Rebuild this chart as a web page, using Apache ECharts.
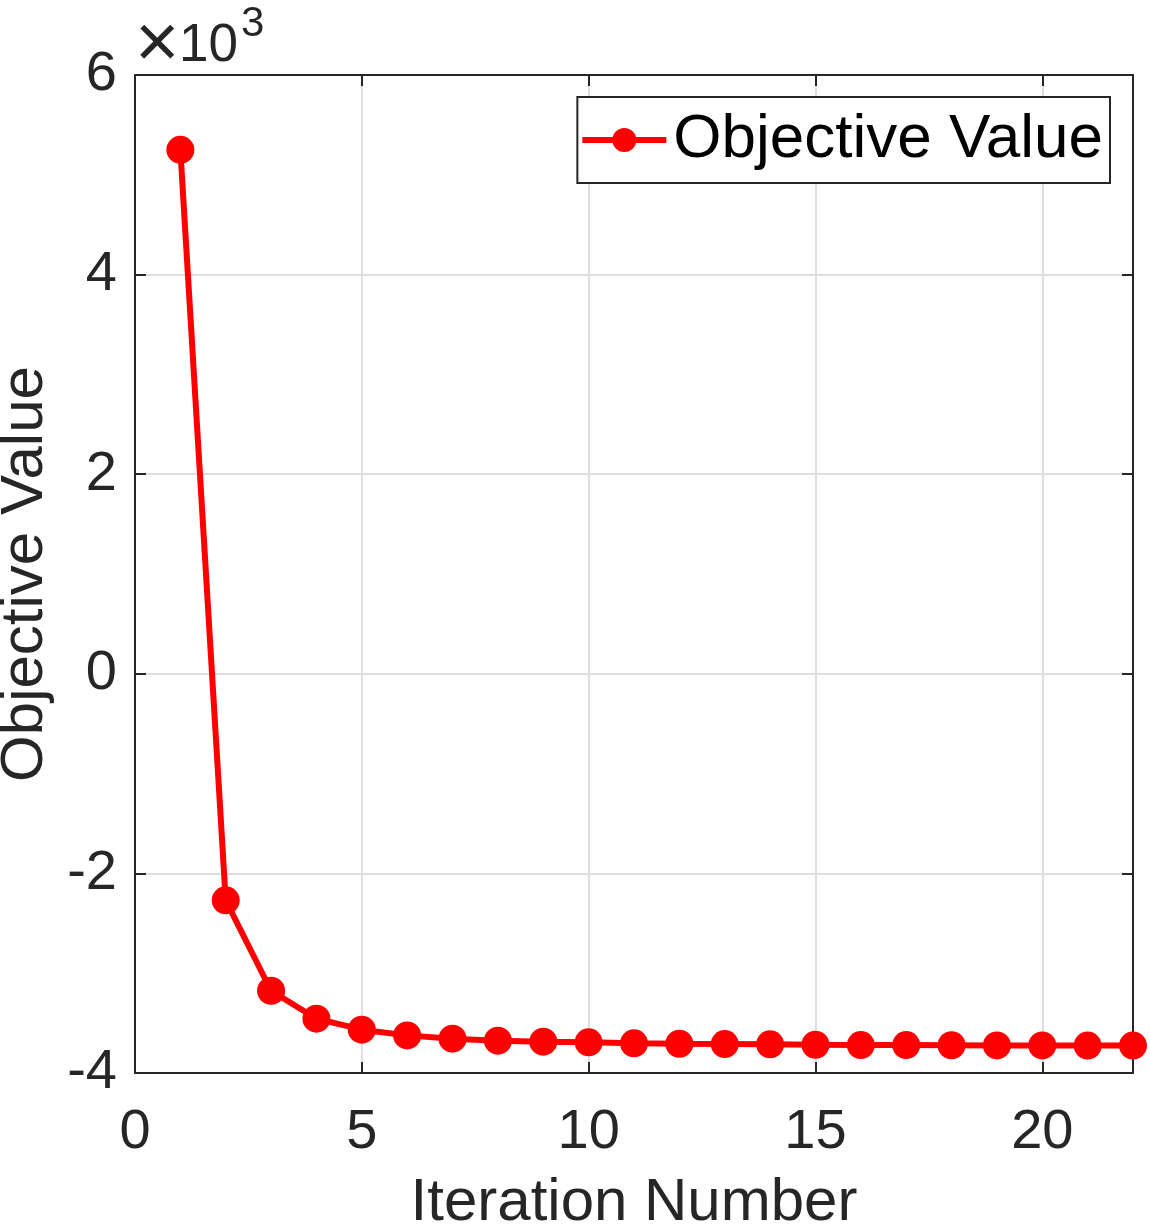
<!DOCTYPE html>
<html>
<head>
<meta charset="utf-8">
<script src="https://cdn.jsdelivr.net/npm/echarts@6/dist/echarts.min.js"></script>
<style>
html, body { margin: 0; padding: 0; background: #fff; }
#main { width: 1150px; height: 1228px; }
</style>
</head>
<body>
<div id="main"></div>
<script>
// iteration index and objective value
var iterations = [1, 2, 3, 4, 5, 6, 7, 8, 9, 10, 11, 12, 13, 14, 15, 16, 17, 18, 19, 20, 21, 22];
var objective = [5250, -2270, -3176, -3456, -3566, -3623, -3656, -3676, -3686, -3693, -3703,
                 -3707, -3710, -3713, -3717, -3720, -3720, -3722, -3724, -3724, -3725, -3725];
var xTicks = [0, 5, 10, 15, 20];
var yTicks = [-4, -2, 0, 2, 4, 6];

var FONT = '"Liberation Sans", Arial, Helvetica, sans-serif';
var INK = '#262626';

var points = iterations.map(function (it, i) { return [it, objective[i]]; });

var myecharts = echarts.init(document.getElementById('main'));

// mirrored axes on top / right: only the box line and inward ticks
var boxAxis = {
    axisLine: { show: true, onZero: false, lineStyle: { color: INK, width: 2 } },
    axisTick: { show: true, inside: true, length: 11, lineStyle: { color: INK, width: 2 } },
    axisLabel: { show: false },
    splitLine: { show: false }
};

var option = {
    animation: false,
    backgroundColor: '#fff',
    grid: { left: 135, right: 17, top: 75, bottom: 155, containLabel: false, outerBoundsMode: 'none' },
    legend: {
        data: ['Objective Value'],
        right: 40,
        top: 97,
        padding: [12, 7, 12, 2],
        itemWidth: 84,
        itemHeight: 30,
        itemGap: 0,
        backgroundColor: '#fff',
        borderColor: INK,
        borderWidth: 2,
        borderRadius: 0,
        lineStyle: { width: 6 },
        textStyle: { color: '#000', fontFamily: FONT, fontSize: 62, padding: [0, 0, 0, 2] }
    },
    xAxis: [
        {
            type: 'value',
            min: 0,
            max: 22,
            interval: 5,
            name: 'Iteration Number',
            nameLocation: 'middle',
            nameGap: 100,
            nameTextStyle: { color: INK, fontFamily: FONT, fontSize: 60 },
            axisLine: { show: true, onZero: false, lineStyle: { color: INK, width: 2 } },
            axisTick: { show: true, inside: true, length: 11, lineStyle: { color: INK, width: 2 } },
            axisLabel: {
                color: INK, fontFamily: FONT, fontSize: 56, margin: 32,
                showMaxLabel: false,
                formatter: function (v) { return xTicks.indexOf(v) >= 0 ? String(v) : ''; }
            },
            splitLine: { show: true, lineStyle: { color: '#dfdfdf', width: 2 } }
        },
        Object.assign({ type: 'value', min: 0, max: 22, interval: 5, position: 'top' }, boxAxis)
    ],
    yAxis: [
        {
            type: 'value',
            min: -4000,
            max: 6000,
            interval: 2000,
            name: 'Objective Value',
            nameLocation: 'middle',
            nameGap: 80,
            nameTextStyle: { color: INK, fontFamily: FONT, fontSize: 60 },
            axisLine: { show: true, onZero: false, lineStyle: { color: INK, width: 2 } },
            axisTick: { show: true, inside: true, length: 11, lineStyle: { color: INK, width: 2 } },
            axisLabel: {
                color: INK, fontFamily: FONT, fontSize: 56, margin: 18,
                formatter: function (v) {
                    var t = v / 1000;
                    return yTicks.indexOf(t) >= 0 ? String(t) : '';
                }
            },
            splitLine: { show: true, lineStyle: { color: '#dfdfdf', width: 2 } }
        },
        Object.assign({ type: 'value', min: -4000, max: 6000, interval: 2000, position: 'right' }, boxAxis)
    ],
    graphic: [
        {
            type: 'text', left: 135, top: 8,
            style: { text: '\u00d7', fill: INK, font: '76px ' + FONT }
        },
        {
            type: 'text', left: 179, top: 20,
            style: { text: '10', fill: INK, font: '53px ' + FONT }
        },
        {
            type: 'text', left: 241, top: 3,
            style: { text: '3', fill: INK, font: '42px ' + FONT }
        }
    ],
    series: [
        {
            name: 'Objective Value',
            type: 'line',
            data: points,
            symbol: 'circle',
            symbolSize: 28,
            showAllSymbol: true,
            clip: false,
            itemStyle: { color: '#ff0000' },
            lineStyle: { color: '#ff0000', width: 6 },
            z: 5
        }
    ]
};
myecharts.setOption(option);
</script>
</body>
</html>
